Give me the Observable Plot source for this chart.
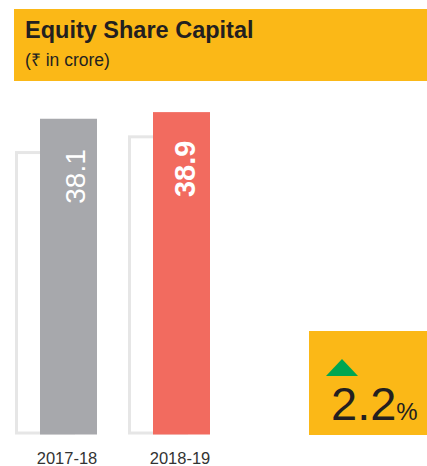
<!DOCTYPE html>
<html><head><meta charset="utf-8">
<script src="https://cdn.jsdelivr.net/npm/d3@7"></script>
<script src="https://cdn.jsdelivr.net/npm/@observablehq/plot@0.6"></script>
<style>
body{margin:0;background:#fff;font-family:"Liberation Sans",Arial,sans-serif;}
#wrap{position:relative;width:427px;height:466px;overflow:hidden;background:#fff;}
#wrap svg{position:absolute;left:0;top:0;}
#header{position:absolute;left:14px;top:9px;width:413px;height:72px;background:#FBB817;}
#title{position:absolute;left:11px;top:10.1px;font-size:23.5px;line-height:23.5px;font-weight:bold;color:#231f20;white-space:nowrap;}
#subtitle{position:absolute;left:11px;top:42.7px;font-size:17.5px;line-height:17.5px;color:#231f20;white-space:nowrap;}
#growthBox{position:absolute;left:309px;top:331px;width:118px;height:104px;background:#FBB817;}
#tri{position:absolute;left:17px;top:28px;width:0;height:0;border-left:16px solid transparent;border-right:16px solid transparent;border-bottom:17px solid #00A651;}
#growth{position:absolute;left:22px;top:49.2px;font-size:47px;line-height:47px;color:#231f20;white-space:nowrap;}
#growth span{font-size:24px;}
</style>
</head><body>
<div id="wrap"></div>
<script>
const years = ["2017-18", "2018-19"];
const values = [38.1, 38.9];
const outlineValues = [34.2, 36.1];
const barColors = ["#A7A8AC", "#F26B5F"];
const titleText = "Equity Share Capital";
const subtitleText = "(₹ in crore)";
const growthValue = "2.2";

const data = years.map((y, i) => ({year: y, value: values[i], outline: outlineValues[i], color: barColors[i]}));

const chart = Plot.plot({
  width: 427, height: 466,
  marginTop: 0, marginLeft: 0, marginRight: 0, marginBottom: 31.5,
  style: {background: "transparent", fontFamily: "'Liberation Sans', Arial, sans-serif"},
  x: {type: "band", domain: years, range: [39, 211], paddingInner: 0.4912, paddingOuter: 0, label: null},
  y: {domain: [0, 40], range: [434.5, 103], axis: null},
  color: {type: "identity"},
  marks: [
    Plot.barY(data, {x: "year", y: "outline", fill: "white", stroke: "#E6E6E6", strokeWidth: 3, dx: -23.5, insetTop: 1.5, insetBottom: 1.5}),
    Plot.barY(data, {x: "year", y: "value", fill: "color"}),
    Plot.text(data.slice(0, 1), {x: "year", y: "value", text: d => d.value.toFixed(1), rotate: -90, textAnchor: "end", dx: 7, dy: 30, fill: "white", fontSize: 28}),
    Plot.text(data.slice(1), {x: "year", y: "value", text: d => d.value.toFixed(1), rotate: -90, textAnchor: "end", dx: 4, dy: 28, fill: "white", fontSize: 29, fontWeight: 600}),
    Plot.axisX({tickSize: 0, tickPadding: 16.8, fontSize: 16.5, fill: "#333", dx: -2})
  ]
});

const wrap = document.getElementById("wrap");
wrap.appendChild(chart);

const header = document.createElement("div");
header.id = "header";
header.innerHTML = `<div id="title">${titleText}</div><div id="subtitle">${subtitleText}</div>`;
wrap.appendChild(header);

const box = document.createElement("div");
box.id = "growthBox";
box.innerHTML = `<div id="tri"></div><div id="growth">${growthValue}<span>%</span></div>`;
wrap.appendChild(box);
</script>
</body></html>
